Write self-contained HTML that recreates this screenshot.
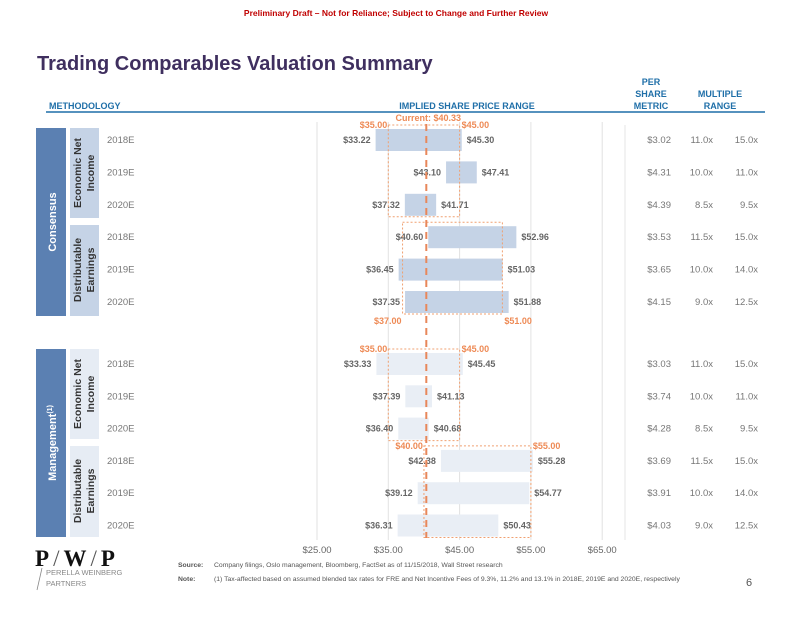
<!DOCTYPE html>
<html><head><meta charset="utf-8"><style>
body{margin:0;background:#fff;font-family:"Liberation Sans",sans-serif;}
</style></head><body>
<svg width="792" height="612" viewBox="0 0 792 612" xmlns="http://www.w3.org/2000/svg" font-family="Liberation Sans, sans-serif">
<text x="396" y="16" text-anchor="middle" font-size="8.5" font-weight="bold" fill="#c00000">Preliminary Draft – Not for Reliance; Subject to Change and Further Review</text>
<text x="37" y="70" font-size="20" font-weight="bold" fill="#3f2f5f">Trading Comparables Valuation Summary</text>
<g font-size="9" font-weight="bold" fill="#1f6fa8">
<text x="49" y="109">METHODOLOGY</text>
<text x="467" y="109" text-anchor="middle">IMPLIED SHARE PRICE RANGE</text>
<text x="651" y="85" text-anchor="middle">PER</text>
<text x="651" y="97" text-anchor="middle">SHARE</text>
<text x="651" y="109" text-anchor="middle">METRIC</text>
<text x="720" y="97" text-anchor="middle">MULTIPLE</text>
<text x="720" y="109" text-anchor="middle">RANGE</text>
</g>
<line x1="46" y1="112" x2="765" y2="112" stroke="#1f6fa8" stroke-width="1.5"/>
<rect x="36" y="128" width="30" height="188" fill="#5b80b2"/>
<text transform="translate(56,222) rotate(-90)" text-anchor="middle" font-size="11" font-weight="bold" fill="#fff">Consensus</text>
<rect x="70" y="128" width="29" height="90" fill="#c5d3e6"/>
<text transform="translate(81,173) rotate(-90)" text-anchor="middle" font-size="10.5" font-weight="bold" fill="#333">Economic Net</text>
<text transform="translate(94,173) rotate(-90)" text-anchor="middle" font-size="10.5" font-weight="bold" fill="#333">Income</text>
<rect x="70" y="225" width="29" height="91" fill="#c5d3e6"/>
<text transform="translate(81,270) rotate(-90)" text-anchor="middle" font-size="10.5" font-weight="bold" fill="#333">Distributable</text>
<text transform="translate(94,270) rotate(-90)" text-anchor="middle" font-size="10.5" font-weight="bold" fill="#333">Earnings</text>
<rect x="36" y="349" width="30" height="188" fill="#5b80b2"/>
<text transform="translate(56,443) rotate(-90)" text-anchor="middle" font-size="11" font-weight="bold" fill="#fff">Management<tspan font-size="7" dy="-4">(1)</tspan></text>
<rect x="70" y="349" width="29" height="90" fill="#e6ecf4"/>
<text transform="translate(81,394) rotate(-90)" text-anchor="middle" font-size="10.5" font-weight="bold" fill="#333">Economic Net</text>
<text transform="translate(94,394) rotate(-90)" text-anchor="middle" font-size="10.5" font-weight="bold" fill="#333">Income</text>
<rect x="70" y="446" width="29" height="91" fill="#e6ecf4"/>
<text transform="translate(81,491) rotate(-90)" text-anchor="middle" font-size="10.5" font-weight="bold" fill="#333">Distributable</text>
<text transform="translate(94,491) rotate(-90)" text-anchor="middle" font-size="10.5" font-weight="bold" fill="#333">Earnings</text>
<g id="chart"></g>
<text x="35" y="566" font-size="23" font-family="Liberation Serif, serif" font-weight="bold" fill="#111">P<tspan font-weight="normal" fill="#555" dx="4">/</tspan><tspan dx="4">W</tspan><tspan font-weight="normal" fill="#555" dx="4">/</tspan><tspan dx="4">P</tspan></text>
<text x="46" y="575" font-size="7.5" fill="#888">PERELLA WEINBERG</text>
<text x="46" y="586" font-size="7.5" fill="#888">PARTNERS</text>
<line x1="37" y1="590" x2="42" y2="568" stroke="#888" stroke-width="0.8"/>
<text x="178" y="567" font-size="6.8" font-weight="bold" fill="#555">Source:</text>
<text x="214" y="567" font-size="6.8" fill="#555">Company filings, Oslo management, Bloomberg, FactSet as of 11/15/2018, Wall Street research</text>
<text x="178" y="581" font-size="6.8" font-weight="bold" fill="#555">Note:</text>
<text x="214" y="581" font-size="6.8" fill="#555">(1)  Tax-affected based on assumed blended tax rates for FRE and Net Incentive Fees of 9.3%, 11.2% and 13.1% in 2018E, 2019E and 2020E, respectively</text>
<text x="746" y="586" font-size="11" fill="#555">6</text>
</svg>
<script>
const years=["2018E","2019E","2020E","2018E","2019E","2020E","2018E","2019E","2020E","2018E","2019E","2020E"];
const lows=[33.22,43.10,37.32,40.60,36.45,37.35,33.33,37.39,36.40,42.38,39.12,36.31];
const highs=[45.30,47.41,41.71,52.96,51.03,51.88,45.45,41.13,40.68,55.28,54.77,50.43];
const metrics=["$3.02","$4.31","$4.39","$3.53","$3.65","$4.15","$3.03","$3.74","$4.28","$3.69","$3.91","$4.03"];
const multLow=["11.0x","10.0x","8.5x","11.5x","10.0x","9.0x","11.0x","10.0x","8.5x","11.5x","10.0x","9.0x"];
const multHigh=["15.0x","11.0x","9.5x","15.0x","14.0x","12.5x","15.0x","11.0x","9.5x","15.0x","14.0x","12.5x"];
const ticks=[25,35,45,55,65];
const current=40.33;
const refLows=[35,37,35,40];
const refHighs=[45,51,45,55];
const NS="http://www.w3.org/2000/svg";
const g=document.getElementById('chart');
const x=v=>317+(v-25)*7.13;
const rowY=i=>(i<6?140+i*32.4:364+(i-6)*32.3);
function el(t,a,txt){const e=document.createElementNS(NS,t);for(const k in a)e.setAttribute(k,a[k]);if(txt!==undefined)e.textContent=txt;g.appendChild(e);return e;}
ticks.forEach((t,i)=>{
 const l=el('line',{x1:x(t),x2:x(t),y1:122,y2:540,stroke:'#e2e2e2','stroke-width':1});
 
 
 const tx=el('text',{x:x(t),y:553,'text-anchor':'middle','font-size':9.5,fill:'#666'},'$'+t.toFixed(2));
 
 
});
el('line',{x1:625,x2:625,y1:125,y2:540,stroke:'#e6e6e6'});
years.forEach((yr,i)=>{
 const cy=rowY(i);
 const mgmt=i>=6;
 const r=el('rect',{x:x(lows[i]),y:cy-11,width:x(highs[i])-x(lows[i]),height:22,fill:mgmt?'#e9eef5':'#c5d3e6'});
 
 
 el('text',{x:x(lows[i])-5,y:cy+3,'text-anchor':'end','font-size':9,'font-weight':'bold',fill:'#666'},'$'+lows[i].toFixed(2));
 el('text',{x:x(highs[i])+5,y:cy+3,'font-size':9,'font-weight':'bold',fill:'#666'},'$'+highs[i].toFixed(2));
 const yl=el('text',{x:107,y:cy+3,'font-size':9.5,fill:'#777'},yr);
 
 
 el('text',{x:671,y:cy+3,'text-anchor':'end','font-size':9.5,fill:'#777'},metrics[i]);
 el('text',{x:713,y:cy+3,'text-anchor':'end','font-size':9.5,fill:'#777'},multLow[i]);
 el('text',{x:758,y:cy+3,'text-anchor':'end','font-size':9.5,fill:'#777'},multHigh[i]);
});
refLows.forEach((lo,k)=>{
 const hi=refHighs[k];
 const top=rowY(k*3)-15, bot=rowY(k*3+2)+12;
 const b=el('rect',{x:x(lo),y:top,width:x(hi)-x(lo),height:bot-top,fill:'none',stroke:'#f0a070','stroke-width':1,'stroke-dasharray':'2,2'});
 
 
 const below=(k===1);
 const ly=below?bot+10:top+3;
 el('text',{x:x(lo)-1,y:ly,'text-anchor':'end','font-size':9,'font-weight':'bold',fill:'#ee8a55'},'$'+lo.toFixed(2));
 el('text',{x:x(hi)+2,y:ly,'font-size':9,'font-weight':'bold',fill:'#ee8a55'},'$'+hi.toFixed(2));
});
const cl=el('line',{x1:x(current),x2:x(current),y1:124,y2:538,stroke:'#e8875a','stroke-width':2,'stroke-dasharray':'7,5'});


const ct=el('text',{x:x(current)+2,y:121,'text-anchor':'middle','font-size':9,'font-weight':'bold',fill:'#ee8a55'},'Current: $'+current.toFixed(2));


</script>
</body></html>
